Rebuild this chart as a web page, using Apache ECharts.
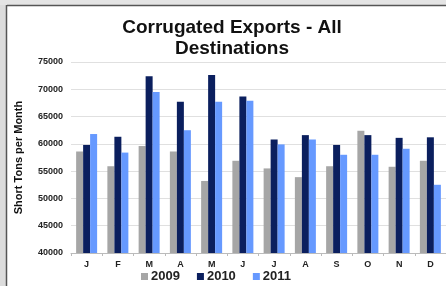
<!DOCTYPE html>
<html>
<head>
<meta charset="utf-8">
<script src="https://cdn.jsdelivr.net/npm/echarts@6/dist/echarts.min.js"></script>
<style>
  html, body { margin: 0; padding: 0; background: #fff; overflow: hidden; }
  #chart { width: 446px; height: 286px; }
</style>
</head>
<body>
<div id="chart"></div>
<script>
const months = ['J', 'F', 'M', 'A', 'M', 'J', 'J', 'A', 'S', 'O', 'N', 'D'];
const y2009 = [58600, 55900, 59600, 58600, 53200, 56900, 55500, 53900, 55900, 62400, 55800, 56900];
const y2010 = [59800, 61300, 72400, 67700, 72600, 68700, 60800, 61600, 59800, 61600, 61100, 61200];
const y2011 = [61800, 58400, 69500, 62500, 67700, 67900, 59900, 60800, 58000, 58000, 59100, 52500];

const chart = echarts.init(document.getElementById('chart'));

const bar = (name, data, color) => ({
  name: name,
  type: 'bar',
  data: data,
  barWidth: 7,
  barGap: '0%',
  itemStyle: { color: color },
  animation: false
});

chart.setOption({
  backgroundColor: '#fff',
  textStyle: { fontFamily: 'Liberation Sans, Arial, sans-serif' },
  title: {
    text: 'Corrugated Exports - All\nDestinations',
    left: 227,
    top: 12,
    textAlign: 'center',
    textStyle: { fontSize: 19, fontWeight: 'bold', color: '#111', lineHeight: 21 }
  },
  legend: {
    left: 136,
    top: 265,
    itemWidth: 7,
    itemHeight: 7,
    itemGap: 17,
    icon: 'rect',
    textStyle: { fontSize: 13, fontWeight: 'bold', color: '#222', padding: [0, 0, 0, -2] },
    data: ['2009', '2010', '2011']
  },
  grid: { left: 71, top: 62, width: 378, height: 191, containLabel: false },
  xAxis: {
    type: 'category',
    data: months,
    axisLine: { lineStyle: { color: '#bbb' } },
    axisTick: { show: true, length: 3, lineStyle: { color: '#bbb' } },
    axisLabel: { fontSize: 9, fontWeight: 'bold', color: '#222', margin: 7 }
  },
  yAxis: {
    type: 'value',
    min: 40000,
    max: 75000,
    interval: 5000,
    name: 'Short Tons per Month',
    nameLocation: 'middle',
    nameGap: 47,
    nameTextStyle: { fontSize: 11, fontWeight: 'bold', color: '#111' },
    axisLine: { show: false },
    axisTick: { show: false },
    axisLabel: { fontSize: 9, fontWeight: 'bold', color: '#222', margin: 8, formatter: v => String(v) },
    splitLine: { lineStyle: { color: '#e0e0e0' } }
  },
  graphic: [
    { type: 'rect', shape: { x: 0, y: 0, width: 6, height: 286 }, style: { fill: '#dcdcdc' } },
    { type: 'rect', shape: { x: 0, y: 0, width: 446, height: 5 }, style: { fill: '#e4e4e4' } },
    { type: 'line', shape: { x1: 6.5, y1: 5, x2: 6.5, y2: 286 }, style: { stroke: '#555', lineWidth: 1.5 } },
    { type: 'line', shape: { x1: 7, y1: 5.5, x2: 446, y2: 5.5 }, style: { stroke: '#555', lineWidth: 1.5 } }
  ],
  series: [
    bar('2009', y2009, '#a6a6a6'),
    bar('2010', y2010, '#0b1f5e'),
    bar('2011', y2011, '#6699ff')
  ]
});
</script>
</body>
</html>
